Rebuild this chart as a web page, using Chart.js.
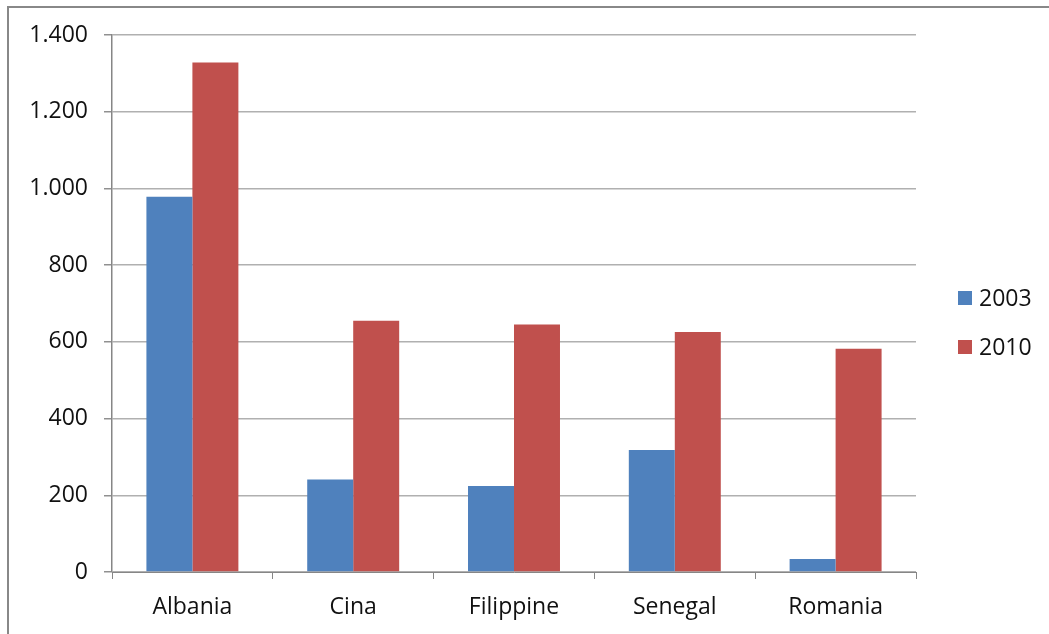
<!DOCTYPE html>
<html>
<head>
<meta charset="utf-8">
<script src="https://cdn.jsdelivr.net/npm/chart.js@4"></script>
<style>
html,body{margin:0;padding:0;background:#fff;}
#wrap{position:relative;width:1049px;height:634px;}
#frame{position:absolute;left:7px;top:6px;width:1100px;height:700px;border-top:2px solid #888;border-left:2px solid #888;box-sizing:border-box;pointer-events:none;}
canvas{position:absolute;left:0;top:0;}
</style>
</head>
<body>
<div id="wrap">
<canvas id="c" width="1049" height="634"></canvas>
<div id="frame"></div>
</div>
<script>
const categories = ["Albania", "Cina", "Filippine", "Senegal", "Romania"];
const seriesNames = ["2003", "2010"];
const values2003 = [978, 241, 224, 318, 34];
const values2010 = [1328, 655, 645, 626, 582];
const yTicks = [0, 200, 400, 600, 800, 1000, 1200, 1400];
const colors = ["#4F81BD", "#C0504D"];

const FONT = "'Open Sans', 'Liberation Sans', sans-serif";

function fmt(v){
  return String(v).replace(/\B(?=(\d{3})+(?!\d))/g, ".");
}

const legendPlugin = {
  id: 'sideLegend',
  afterDraw(chart){
    const ctx = chart.ctx;
    ctx.save();
    ctx.font = "23px " + FONT;
    ctx.textBaseline = "middle";
    ctx.textAlign = "left";
    chart.data.datasets.forEach((ds, i) => {
      const cy = 298 + i * 49;
      ctx.fillStyle = ds.backgroundColor;
      ctx.fillRect(958, cy - 7, 14, 14);
      ctx.fillStyle = "#111";
      ctx.fillText(ds.label, 979, cy + 1);
    });
    ctx.restore();
  }
};

new Chart(document.getElementById('c'), {
  type: 'bar',
  data: {
    labels: categories,
    datasets: [
      { label: seriesNames[0], data: values2003, backgroundColor: colors[0], borderWidth: 0 },
      { label: seriesNames[1], data: values2010, backgroundColor: colors[1], borderWidth: 0 }
    ]
  },
  options: {
    responsive: false,
    animation: false,
    devicePixelRatio: 1,
    layout: { padding: { top: 35, right: 133, left: 0, bottom: 0 } },
    plugins: { legend: { display: false }, tooltip: { enabled: false } },
    datasets: { bar: { categoryPercentage: 0.572, barPercentage: 1.0 } },
    scales: {
      x: {
        offset: true,
        grid: { offset: true, drawOnChartArea: false, drawTicks: true, tickLength: 7, color: '#868686', tickColor: '#868686' },
        border: { color: '#868686', width: 1 },
        ticks: { color: '#111', font: { family: FONT, size: 23 }, padding: 15, maxRotation: 0 },
        afterFit(scale){ scale.height = 62; }
      },
      y: {
        min: 0, max: 1400,
        afterBuildTicks(scale){ scale.ticks = yTicks.map(v => ({ value: v })); },
        grid: { color: '#b0b0b0', tickColor: '#909090', tickLength: 8, lineWidth: 1.5 },
        border: { color: '#868686', width: 1.5 },
        ticks: { color: '#111', font: { family: FONT, size: 23 }, padding: 16, callback: v => fmt(v) },
        afterFit(scale){ scale.width = 112; }
      }
    }
  },
  plugins: [legendPlugin]
});
</script>
</body>
</html>
